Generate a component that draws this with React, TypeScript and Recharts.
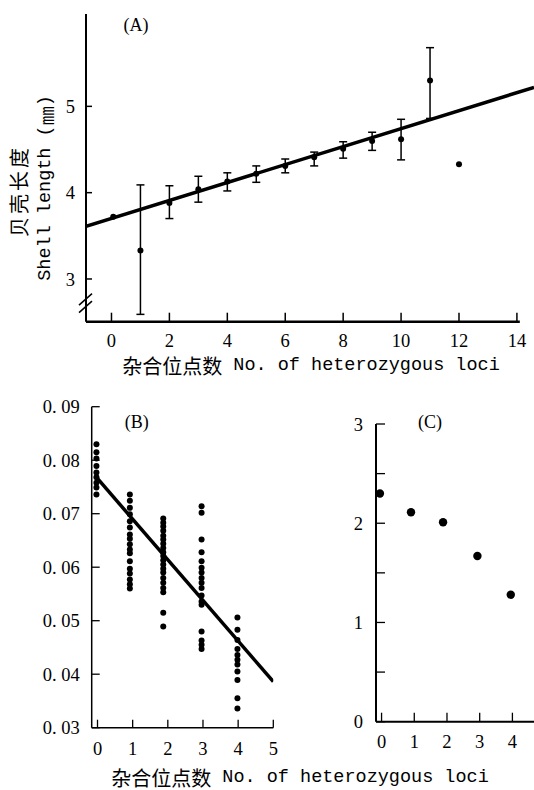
import React from 'react';
import { ComposedChart, Scatter, XAxis, YAxis, ErrorBar, ReferenceLine, ReferenceDot } from 'recharts';

// (A) shell length by number of heterozygous loci
const lociA = [1, 2, 3, 4, 5, 6, 7, 8, 9, 10, 11];
const meanA = [3.33, 3.88, 4.04, 4.13, 4.22, 4.31, 4.41, 4.51, 4.6, 4.62, 5.3];
const lowA = [2.59, 3.7, 3.89, 4.02, 4.12, 4.23, 4.31, 4.4, 4.49, 4.38, 4.86];
const highA = [4.09, 4.08, 4.19, 4.23, 4.31, 4.39, 4.47, 4.59, 4.7, 4.85, 5.68];
const lociA0 = [0.06, 12];
const meanA0 = [3.72, 4.33];
const fitAX = [-0.88, 14.59];
const fitAY = [3.61, 5.22];
const ticksAX = [0, 2, 4, 6, 8, 10, 12, 14];
const ticksAY = [3, 4, 5];

// (B) individual values per group
const groupXB = [-0.03, 0.92, 1.87, 2.96, 3.98];
const b0 = [0.083, 0.0815, 0.0803, 0.0789, 0.0777, 0.0768, 0.0758, 0.0749, 0.0736];
const b1 = [0.0736, 0.0724, 0.0711, 0.0699, 0.0686, 0.0674, 0.0661, 0.0653, 0.0643, 0.0633, 0.0626, 0.0611, 0.0597, 0.0588, 0.0577, 0.0568, 0.056];
const b2 = [0.0691, 0.0683, 0.0676, 0.0668, 0.0659, 0.0652, 0.0644, 0.0636, 0.0628, 0.0621, 0.0613, 0.0605, 0.0597, 0.059, 0.058, 0.0571, 0.0561, 0.0553, 0.0515, 0.0489];
const b3 = [0.0714, 0.0702, 0.0652, 0.0628, 0.0611, 0.0599, 0.059, 0.058, 0.0571, 0.0561, 0.0547, 0.0536, 0.053, 0.048, 0.0463, 0.0455, 0.0447];
const b4 = [0.0506, 0.0483, 0.0464, 0.0447, 0.0436, 0.0427, 0.0418, 0.0405, 0.0389, 0.0355, 0.0336];
const fitBX = [-0.07, 5];
const fitBY = [0.0771, 0.0386];
const ticksBX = [0, 1, 2, 3, 4, 5];
const ticksBY = [0.03, 0.04, 0.05, 0.06, 0.07, 0.08, 0.09];

// (C)
const xC = [-0.05, 0.9, 1.88, 2.93, 3.95];
const yC = [2.3, 2.11, 2.01, 1.67, 1.28];
const ticksCX = [0, 1, 2, 3, 4];
const ticksCY = [0, 0.5, 1, 1.5, 2, 2.5, 3];

const SERIF = '"Liberation Serif", "Times New Roman", serif';
const MONO = '"Liberation Mono", monospace';
const CJK = '"Noto Sans CJK SC", sans-serif';

const pairs = (xs: number[], ys: number[]) => xs.map((x, i) => ({ x, y: ys[i] }));

const rowsA = lociA.map((x, i) => ({ x, y: meanA[i], err: [meanA[i] - lowA[i], highA[i] - meanA[i]] }));
const rowsA0 = pairs(lociA0, meanA0);
const fitA = pairs(fitAX, fitAY);
const rowsB = [b0, b1, b2, b3, b4].flatMap((vals, g) => vals.map((y) => ({ x: groupXB[g], y })));
const fitB = pairs(fitBX, fitBY);
const rowsC = pairs(xC, yC);

const tickFont = { fontFamily: SERIF, fontSize: 18.5, fill: '#000' };
const dot = (r: number) => (p: any) => <circle cx={p.cx} cy={p.cy} r={r} fill="#000" />;
const noDot = () => <g />;

const BreakMark = (p: any) => (
  <g stroke="#000" strokeWidth={1.5}>
    <line x1={p.cx - 7} y1={p.cy + 2} x2={p.cx + 6} y2={p.cy - 9.5} />
    <line x1={p.cx - 7} y1={p.cy + 9.5} x2={p.cx + 6} y2={p.cy - 2} />
  </g>
);

const XTitle = ({ x, y }: { x: number; y: number }) => (
  <text x={x} y={y} textAnchor="middle" dominantBaseline="central">
    <tspan fontFamily={CJK} fontSize={20}>杂合位点数</tspan>
    <tspan fontFamily={MONO} fontSize={18.5}> No. of heterozygous loci</tspan>
  </text>
);

function ChartA() {
  return (
    <ComposedChart width={534} height={385} margin={{ top: 14, right: 0, bottom: 33.3, left: 56 }}>
      <XAxis type="number" dataKey="x" domain={[-0.88, 14.59]} ticks={ticksAX} allowDataOverflow
        axisLine={false} tickSize={-9} tickMargin={21} tickLine={{ stroke: '#000', strokeWidth: 1.5 }} tick={tickFont} height={30} />
      <YAxis type="number" dataKey="y" domain={[2.505, 6.07]} ticks={ticksAY} allowDataOverflow width={30}
        axisLine={{ stroke: '#000', strokeWidth: 2 }} tickSize={-6} tickMargin={17} tickLine={{ stroke: '#000', strokeWidth: 1.5 }} tick={tickFont} />
      <ReferenceLine segment={[{ x: -0.88, y: 2.505 }, { x: 14.1, y: 2.505 }]} stroke="#000" strokeWidth={2.5} />
      <ReferenceDot x={-0.88} y={2.72} r={0} shape={BreakMark} ifOverflow="visible" />
      <Scatter data={fitA} dataKey="y" line={{ stroke: '#000', strokeWidth: 3.5 }} shape={noDot} isAnimationActive={false} />
      <Scatter data={rowsA} dataKey="y" shape={dot(3)} isAnimationActive={false}>
        <ErrorBar dataKey="err" direction="y" width={4} stroke="#000" strokeWidth={1.5} isAnimationActive={false} />
      </Scatter>
      <Scatter data={rowsA0} dataKey="y" shape={dot(3)} isAnimationActive={false} />
      <text x={136} y={25} textAnchor="middle" dominantBaseline="central" fontFamily={SERIF} fontSize={18}>(A)</text>
      <text x={18} y={191} transform="rotate(-90 18 191)" textAnchor="middle" dominantBaseline="central"
        fontFamily={CJK} fontSize={20} letterSpacing={3}>贝壳长度</text>
      <text x={45} y={188} transform="rotate(-90 45 188)" textAnchor="middle" dominantBaseline="central"
        fontFamily={MONO} fontSize={18.5}>Shell length (<tspan fontFamily={CJK} fontSize={19}>㎜</tspan>)</text>
      <XTitle x={311} y={365} />
    </ComposedChart>
  );
}

function ChartB() {
  return (
    <ComposedChart width={534} height={410} margin={{ top: 26.7, right: 260.7, bottom: 32.3, left: 31.7 }}>
      <XAxis type="number" dataKey="x" domain={[-0.165, 5]} ticks={ticksBX} allowDataOverflow height={30}
        axisLine={{ stroke: '#000', strokeWidth: 1.5 }} tickSize={-8} tickMargin={22} tickLine={{ stroke: '#000', strokeWidth: 1.3 }} tick={tickFont} />
      <YAxis type="number" dataKey="y" domain={[0.03, 0.09]} ticks={ticksBY} allowDataOverflow width={60}
        tickFormatter={(v: number) => v.toFixed(2).replace('.', '. ')}
        axisLine={{ stroke: '#000', strokeWidth: 1.5 }} tickSize={-8} tickMargin={20} tickLine={{ stroke: '#000', strokeWidth: 1.3 }} tick={tickFont} />
      <Scatter data={fitB} dataKey="y" line={{ stroke: '#000', strokeWidth: 3.5 }} shape={noDot} isAnimationActive={false} />
      <Scatter data={rowsB} dataKey="y" shape={dot(3)} isAnimationActive={false} />
      <text x={136.7} y={41.7} textAnchor="middle" dominantBaseline="central" fontFamily={SERIF} fontSize={18}>(B)</text>
      <XTitle x={300} y={396.5} />
    </ComposedChart>
  );
}

function ChartC() {
  return (
    <ComposedChart width={234} height={410} margin={{ top: 44, right: 0, bottom: 38.3, left: 36 }}>
      <XAxis type="number" dataKey="x" domain={[-0.17, 4.66]} ticks={ticksCX} allowDataOverflow height={30}
        axisLine={{ stroke: '#000', strokeWidth: 2 }} tickSize={-9} tickMargin={22} tickLine={{ stroke: '#000', strokeWidth: 1.3 }} tick={tickFont} />
      <YAxis type="number" dataKey="y" domain={[0, 3]} ticks={ticksCY} allowDataOverflow width={40}
        tickFormatter={(v: number) => (Number.isInteger(v) ? String(v) : '')}
        axisLine={{ stroke: '#000', strokeWidth: 2 }} tickSize={-9} tickMargin={22} tickLine={{ stroke: '#000', strokeWidth: 1.3 }} tick={tickFont} />
      <Scatter data={rowsC} dataKey="y" shape={dot(4.2)} isAnimationActive={false} />
      <text x={130} y={41.7} textAnchor="middle" dominantBaseline="central" fontFamily={SERIF} fontSize={18}>(C)</text>
    </ComposedChart>
  );
}

export default function App() {
  return (
    <div style={{ position: 'absolute', left: 0, top: 0, width: 534, height: 790, background: '#fff', overflow: 'hidden' }}>
      <div style={{ position: 'absolute', left: 0, top: 0 }}><ChartA /></div>
      <div style={{ position: 'absolute', left: 0, top: 380 }}><ChartB /></div>
      <div style={{ position: 'absolute', left: 300, top: 380 }}><ChartC /></div>
    </div>
  );
}
